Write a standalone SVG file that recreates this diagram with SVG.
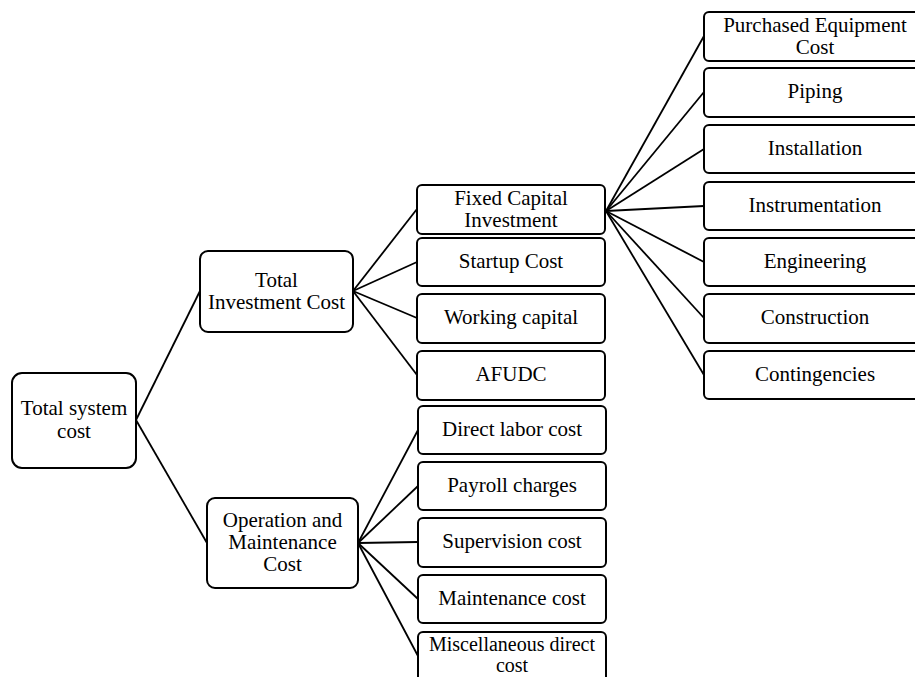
<svg xmlns="http://www.w3.org/2000/svg" width="915" height="677" viewBox="0 0 915 677">
<style>
rect{fill:#fff;stroke:#000;stroke-width:2}
text{font-family:"Liberation Serif","Times New Roman",serif;font-size:21px;fill:#000;text-anchor:middle}
#connectors line{stroke:#000;stroke-width:1.8}
</style>
<rect x="0" y="0" width="915" height="677" style="stroke:none"/>
<g id="connectors">
<line x1="136" y1="420" x2="200" y2="291"/>
<line x1="136" y1="420" x2="207" y2="543"/>
<line x1="353" y1="291" x2="417" y2="209"/>
<line x1="353" y1="291" x2="417" y2="262"/>
<line x1="353" y1="291" x2="417" y2="318"/>
<line x1="353" y1="291" x2="417" y2="375"/>
<line x1="358" y1="543" x2="418" y2="430"/>
<line x1="358" y1="543" x2="418" y2="486"/>
<line x1="358" y1="543" x2="418" y2="542"/>
<line x1="358" y1="543" x2="418" y2="599"/>
<line x1="358" y1="543" x2="418" y2="656"/>
<line x1="606" y1="211" x2="704" y2="36"/>
<line x1="606" y1="211" x2="704" y2="92"/>
<line x1="606" y1="211" x2="704" y2="149"/>
<line x1="606" y1="211" x2="704" y2="206"/>
<line x1="606" y1="211" x2="704" y2="262"/>
<line x1="606" y1="211" x2="704" y2="318"/>
<line x1="606" y1="211" x2="704" y2="375"/>
</g>
<g id="total-system-cost"><rect x="12" y="373" width="124" height="95" rx="10"/><text x="74" y="415">Total system</text><text x="74" y="438">cost</text></g>
<g id="total-investment-cost"><rect x="200" y="251" width="153" height="81" rx="8"/><text x="276.5" y="287">Total</text><text x="276.5" y="309">Investment Cost</text></g>
<g id="om-cost"><rect x="207" y="498" width="151" height="90" rx="8"/><text x="282.5" y="527">Operation and</text><text x="282.5" y="549">Maintenance</text><text x="282.5" y="571">Cost</text></g>
<g id="fixed-capital"><rect x="417" y="185" width="188" height="49" rx="5"/><text x="511" y="205">Fixed Capital</text><text x="511" y="227">Investment</text></g>
<g id="startup-cost"><rect x="417" y="238" width="188" height="48" rx="5"/><text x="511" y="268">Startup Cost</text></g>
<g id="working-capital"><rect x="417" y="294" width="188" height="49" rx="5"/><text x="511" y="324">Working capital</text></g>
<g id="afudc"><rect x="417" y="351" width="188" height="49" rx="5"/><text x="511" y="381">AFUDC</text></g>
<g id="direct-labor"><rect x="418" y="406" width="188" height="48" rx="5"/><text x="512" y="436">Direct labor cost</text></g>
<g id="payroll"><rect x="418" y="462" width="188" height="48" rx="5"/><text x="512" y="492">Payroll charges</text></g>
<g id="supervision"><rect x="418" y="518" width="188" height="49" rx="5"/><text x="512" y="548">Supervision cost</text></g>
<g id="maintenance"><rect x="418" y="575" width="188" height="48" rx="5"/><text x="512" y="605">Maintenance cost</text></g>
<g id="misc"><rect x="418" y="632" width="188" height="60" rx="5"/><text x="512" y="651" style="font-size:20px">Miscellaneous direct</text><text x="512" y="672" style="font-size:20px">cost</text></g>
<g id="purchased-equipment"><rect x="704" y="12" width="222" height="49" rx="5"/><text x="815" y="32">Purchased Equipment</text><text x="815" y="54">Cost</text></g>
<g id="piping"><rect x="704" y="68" width="222" height="49" rx="5"/><text x="815" y="98">Piping</text></g>
<g id="installation"><rect x="704" y="125" width="222" height="48" rx="5"/><text x="815" y="155">Installation</text></g>
<g id="instrumentation"><rect x="704" y="182" width="222" height="48" rx="5"/><text x="815" y="212">Instrumentation</text></g>
<g id="engineering"><rect x="704" y="238" width="222" height="48" rx="5"/><text x="815" y="268">Engineering</text></g>
<g id="construction"><rect x="704" y="294" width="222" height="49" rx="5"/><text x="815" y="324">Construction</text></g>
<g id="contingencies"><rect x="704" y="351" width="222" height="48" rx="5"/><text x="815" y="381">Contingencies</text></g>
</svg>
